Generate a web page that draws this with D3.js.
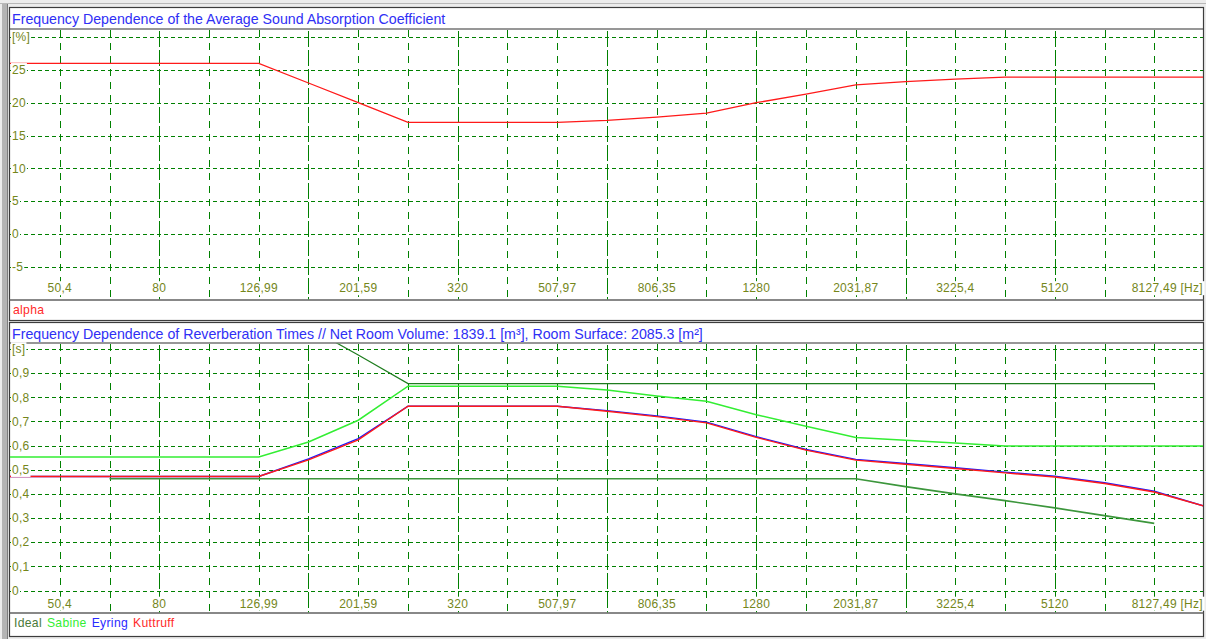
<!DOCTYPE html>
<html>
<head>
<meta charset="utf-8">
<script src="https://cdn.jsdelivr.net/npm/d3@7"></script>
<style>
  html, body { margin: 0; padding: 0; background: #ececec; }
  svg { display: block; }
  text { font-family: "Liberation Sans", Arial, sans-serif; }
</style>
</head>
<body>
<script>
// ---------------- DATA ----------------
// 1/3-octave band frequencies (Hz) used by the program
const bandFreqs = [40, 50.4, 63.5, 80, 100.79, 126.99, 160, 201.59, 254, 320, 403.17, 507.97,
  640, 806.35, 1015.9, 1280, 1612.7, 2031.87, 2560, 3225.4, 4063.7, 5120, 6450.8, 8127.49, 10240];
// x-axis tick labels (every second band)
const xTickFreqs = [50.4, 80, 126.99, 201.59, 320, 507.97, 806.35, 1280, 2031.87, 3225.4, 5120, 8127.49];
const xTickLabels = ["50,4", "80", "126,99", "201,59", "320", "507,97", "806,35", "1280", "2031,87", "3225,4", "5120", "8127,49"];
const xUnit = " [Hz]";

// top chart: average absorption coefficient alpha [%]
const alphaValues = [26, 26, 26, 26, 26, 26, 23, 20, 17, 17, 17, 17,
  17.3, 17.8, 18.4, 20, 21.3, 22.7, 23.2, 23.6, 23.9, 23.9, 23.9, 23.9, 23.9];
const topYValues = [30, 25, 20, 15, 10, 5, 0, -5];
const topYLabels = ["[%]", "25", "20", "15", "10", "5", "0", "-5"];

// bottom chart: reverberation times [s]
const idealUpper = [null, null, null, null, null, null, 1.09, 0.975, 0.857, 0.857, 0.857, 0.857,
  0.857, 0.857, 0.857, 0.857, 0.857, 0.857, 0.857, 0.857, 0.857, 0.857, 0.857, 0.857, null];
const idealLower = [null, null, 0.463, 0.463, 0.463, 0.463, 0.463, 0.463, 0.463, 0.463, 0.463, 0.463,
  0.463, 0.463, 0.463, 0.463, 0.463, 0.463, 0.43, 0.40, 0.372, 0.342, 0.31, 0.278, null];
const sabine = [0.553, 0.553, 0.553, 0.553, 0.553, 0.553, 0.615, 0.705, 0.846, 0.846, 0.846, 0.846,
  0.83, 0.805, 0.784, 0.728, 0.68, 0.634, 0.622, 0.611, 0.598, 0.598, 0.598, 0.598, 0.598];
const eyring = [0.472, 0.472, 0.472, 0.472, 0.472, 0.472, 0.545, 0.629, 0.763, 0.763, 0.763, 0.763,
  0.745, 0.723, 0.697, 0.637, 0.584, 0.543, 0.526, 0.508, 0.49, 0.473, 0.446, 0.411, 0.35];
const kuttruff = [0.472, 0.472, 0.472, 0.472, 0.472, 0.472, 0.541, 0.624, 0.763, 0.763, 0.763, 0.763,
  0.742, 0.72, 0.694, 0.634, 0.581, 0.54, 0.523, 0.505, 0.487, 0.47, 0.443, 0.408, 0.35];
const botYValues = [1, 0.9, 0.8, 0.7, 0.6, 0.5, 0.4, 0.3, 0.2, 0.1, 0];
const botYLabels = ["[s]", "0,9", "0,8", "0,7", "0,6", "0,5", "0,4", "0,3", "0,2", "0,1", "0"];

const seriesNames = ["Ideal", "Sabine", "Eyring", "Kuttruff"];
const topTitle = "Frequency Dependence of the Average Sound Absorption Coefficient";
const botTitle = "Frequency Dependence of Reverberation Times // Net Room Volume: 1839.1 [m³], Room Surface: 2085.3 [m²]";
const topLegend = ["alpha"];

// ---------------- DRAWING ----------------
const W = 1206, H = 639;
const svg = d3.select("body").append("svg").attr("width", W).attr("height", H);

svg.append("rect").attr("x", 0).attr("y", 0).attr("width", W).attr("height", H).attr("fill", "#ececec");
svg.append("line").attr("x1", 0).attr("x2", W).attr("y1", 3.5).attr("y2", 3.5).attr("stroke", "#b8b8b8");
svg.append("rect").attr("x", 2).attr("y", 4).attr("width", 5).attr("height", H).attr("fill", "#b4b4b4");
svg.append("line").attr("x1", 7.5).attr("x2", 7.5).attr("y1", 4).attr("y2", H).attr("stroke", "#7c7c7c");

const FL = 9.5, FR = 1203.5;
const x = d3.scaleLog().domain([40, 10240]).range([10, 1204]);
const labelColor = "#74861a";
const gridColor = "#008000";
const minorK = d3.range(1, 24);
const tickFont = 12, tickSpacing = 0.25;

function panel(cfg) {
  const g = svg.append("g");
  g.append("rect").attr("x", FL).attr("y", cfg.top).attr("width", FR - FL).attr("height", cfg.bottom - cfg.top)
    .attr("fill", "#fff").attr("stroke", "#3c3c3c").attr("stroke-width", 1.2);
  g.append("text").attr("x", 12).attr("y", cfg.titleBase).attr("font-size", 14.2).attr("fill", "#2f2ff5")
    .text(cfg.title);
  g.append("line").attr("x1", FL).attr("x2", FR).attr("y1", cfg.plotTop).attr("y2", cfg.plotTop)
    .attr("stroke", "#303030").attr("stroke-width", 1.2);
  g.append("line").attr("x1", FL).attr("x2", FR).attr("y1", cfg.plotBottom).attr("y2", cfg.plotBottom)
    .attr("stroke", "#606060").attr("stroke-width", 1.6);

  const clipId = "clip" + cfg.id;
  svg.append("clipPath").attr("id", clipId).append("rect")
    .attr("x", 10).attr("y", cfg.plotTop + 0.6).attr("width", 1193).attr("height", cfg.plotBottom - cfg.plotTop - 1.4);
  const plot = g.append("g").attr("clip-path", `url(#${clipId})`);

  plot.selectAll("line.h").data(cfg.yValues).join("line").attr("class", "h")
    .attr("x1", 10).attr("x2", 1203).attr("y1", d => Math.round(cfg.y(d)) + 0.5).attr("y2", d => Math.round(cfg.y(d)) + 0.5)
    .attr("stroke", gridColor).attr("stroke-dasharray", "4,3").attr("shape-rendering", "crispEdges");
  plot.selectAll("line.v").data(minorK).join("line").attr("class", "v")
    .attr("x1", k => Math.round(x(bandFreqs[k])) + 0.5).attr("x2", k => Math.round(x(bandFreqs[k])) + 0.5)
    .attr("y1", cfg.plotTop).attr("y2", cfg.plotBottom)
    .attr("stroke", gridColor)
    .attr("stroke-dasharray", k => k % 3 === 0 ? "16,3" : "7,6")
    .attr("stroke-dashoffset", k => k % 3 === 0 ? -2 : -1)
    .attr("shape-rendering", "crispEdges");

  cfg.series.forEach(s => {
    const line = d3.line()
      .defined(d => d != null)
      .x((d, i) => x(bandFreqs[i]))
      .y(d => cfg.y(d));
    plot.append("path").attr("d", line(s.values)).attr("fill", "none")
      .attr("stroke", s.color).attr("stroke-width", s.width || 1.5);
  });

  const yl = g.append("g");
  cfg.yValues.forEach((v, i) => {
    const t = yl.append("text").attr("x", 12).attr("y", cfg.y(v)).attr("dy", "0.35em")
      .attr("font-size", tickFont).attr("letter-spacing", tickSpacing).attr("fill", labelColor).text(cfg.yLabels[i]);
    const b = t.node().getBBox();
    yl.insert("rect", () => t.node()).attr("x", b.x - 1).attr("y", b.y).attr("width", b.width + 2).attr("height", b.height)
      .attr("fill", "#fff");
  });
  const xl = g.append("g");
  xTickFreqs.forEach((f, i) => {
    const cx = x(f);
    const t = xl.append("text").attr("y", cfg.xLabelY).attr("dy", "0.35em")
      .attr("font-size", tickFont).attr("letter-spacing", tickSpacing).attr("fill", labelColor).text(xTickLabels[i]);
    const w = t.node().getComputedTextLength();
    t.attr("x", cx - w / 2);
    if (i === xTickFreqs.length - 1) t.text(xTickLabels[i] + xUnit);
    const b = t.node().getBBox();
    xl.insert("rect", () => t.node()).attr("x", b.x - 2).attr("y", b.y).attr("width", b.width + 4).attr("height", b.height)
      .attr("fill", "#fff");
  });

  let lx = cfg.legendX;
  cfg.legend.forEach(l => {
    const t = g.append("text").attr("x", lx).attr("y", cfg.legendBase).attr("font-size", 12.2)
      .attr("letter-spacing", 0.3).attr("fill", l.color).text(l.name);
    lx += t.node().getComputedTextLength() + 5;
  });
}

const yTop = d3.scaleLinear().domain([30, -5]).range([37, 267]);
const yBot = d3.scaleLinear().domain([1, 0]).range([349, 590.5]);

panel({
  id: 1, top: 7.5, bottom: 320.5, titleBase: 24, plotTop: 29, plotBottom: 300,
  title: topTitle, y: yTop, yValues: topYValues, yLabels: topYLabels, xLabelY: 288,
  series: [{ values: alphaValues, color: "#ff1a1a", width: 1.3 }],
  legend: [{ name: topLegend[0], color: "#ff2a2a" }], legendX: 13, legendBase: 314
});

panel({
  id: 2, top: 322.5, bottom: 636.5, titleBase: 338.5, plotTop: 343, plotBottom: 613,
  title: botTitle, y: yBot, yValues: botYValues, yLabels: botYLabels, xLabelY: 603.5,
  series: [
    { values: idealUpper, color: "#1e7d1e", width: 1.2 },
    { values: idealLower, color: "#3c963c", width: 1.6 },
    { values: sabine, color: "#33ee33", width: 1.5 },
    { values: eyring, color: "#1a1aff", width: 1.4 },
    { values: kuttruff, color: "#ff1a1a", width: 1.4 }
  ],
  legend: [
    { name: seriesNames[0], color: "#4a7a3a" },
    { name: seriesNames[1], color: "#33ee33" },
    { name: seriesNames[2], color: "#2a2aff" },
    { name: seriesNames[3], color: "#ff2a2a" }
  ], legendX: 14, legendBase: 627
});
</script>
</body>
</html>
